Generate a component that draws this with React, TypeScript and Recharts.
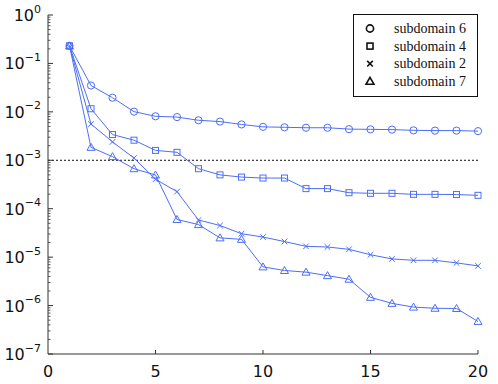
import React from "react";
import {
  LineChart,
  Line,
  XAxis,
  YAxis,
  ReferenceLine,
} from "recharts";

// iteration index
const iterations = [1, 2, 3, 4, 5, 6, 7, 8, 9, 10, 11, 12, 13, 14, 15, 16, 17, 18, 19, 20];

const subdomain6 = [
  0.23, 0.035, 0.0196, 0.0101, 0.0081, 0.0078, 0.0067, 0.0063, 0.0055, 0.0049,
  0.0048, 0.0047, 0.0047, 0.0044, 0.00435, 0.0043, 0.00415, 0.0041, 0.0041, 0.004,
];
const subdomain4 = [
  0.23, 0.0116, 0.0034, 0.0026, 0.0016, 0.00146, 0.00067, 0.0005, 0.00045, 0.00043,
  0.00043, 0.00026, 0.00026, 0.000214, 0.000208, 0.000208, 0.000198, 0.000198, 0.000196, 0.000189,
];
const subdomain2 = [
  0.23, 0.0056, 0.0024, 0.00111, 0.000405, 0.000225, 5.85e-5, 4.5e-5, 3.05e-5, 2.6e-5,
  2.1e-5, 1.67e-5, 1.62e-5, 1.45e-5, 1.12e-5, 9.2e-6, 8.6e-6, 8.6e-6, 7.6e-6, 6.6e-6,
];
const subdomain7 = [
  0.23, 0.00185, 0.00119, 0.00067, 0.000497, 6.0e-5, 4.7e-5, 2.5e-5, 2.33e-5, 6.3e-6,
  5.3e-6, 4.9e-6, 4.15e-6, 3.5e-6, 1.48e-6, 1.11e-6, 9.3e-7, 8.8e-7, 8.7e-7, 4.7e-7,
];

const xTicks = [0, 5, 10, 15, 20];
const yExponents = [-7, -6, -5, -4, -3, -2, -1, 0];
const tolerance = 0.001;

const legendItems = [
  { name: "subdomain 6", marker: "circle" },
  { name: "subdomain 4", marker: "square" },
  { name: "subdomain 2", marker: "cross" },
  { name: "subdomain 7", marker: "triangle" },
];

const BLUE = "#4d6ef6";
const AXIS = "#333";
const PLOT_LEFT = 48;
const PLOT_BOTTOM = 354;

const data = iterations.map((x, i) => ({
  x,
  s6: subdomain6[i],
  s4: subdomain4[i],
  s2: subdomain2[i],
  s7: subdomain7[i],
}));

// major + minor log ticks
const yTicks: number[] = [];
yExponents.forEach((e) => {
  yTicks.push(Math.pow(10, e));
  if (e < 0) {
    for (let m = 2; m <= 9; m++) yTicks.push(m * Math.pow(10, e));
  }
});

function Marker({ kind, cx, cy, color, sw = 1 }: any) {
  if (cx == null || cy == null) return null;
  if (kind === "circle")
    return <circle cx={cx} cy={cy} r={3.6} fill="none" stroke={color} strokeWidth={sw} />;
  if (kind === "square")
    return (
      <rect x={cx - 3} y={cy - 3} width={6} height={6} fill="none" stroke={color} strokeWidth={sw} />
    );
  if (kind === "cross")
    return (
      <path
        d={`M${cx - 2.8},${cy - 2.8}L${cx + 2.8},${cy + 2.8}M${cx - 2.8},${cy + 2.8}L${cx + 2.8},${cy - 2.8}`}
        stroke={color}
        strokeWidth={sw}
      />
    );
  return (
    <path
      d={`M${cx},${cy - 4}L${cx + 4},${cy + 3}L${cx - 4},${cy + 3}Z`}
      fill="none"
      stroke={color}
      strokeWidth={sw}
    />
  );
}

const dotOf = (kind: string) => (props: any) =>
  <Marker key={`${kind}-${props.index}`} kind={kind} cx={props.cx} cy={props.cy} color={BLUE} />;

function YTick(props: any) {
  const { y, payload } = props;
  const v = payload.value;
  const e = Math.log10(v);
  const major = Math.abs(e - Math.round(e)) < 1e-6;
  if (!major) {
    return <line x1={PLOT_LEFT} x2={PLOT_LEFT + 2.5} y1={y} y2={y} stroke={AXIS} strokeWidth={0.8} />;
  }
  const exp = Math.round(e);
  return (
    <g>
      <line x1={PLOT_LEFT} x2={PLOT_LEFT + 5} y1={y} y2={y} stroke={AXIS} strokeWidth={1} />
      <text
        x={41}
        y={y + 6}
        textAnchor="end"
        fontFamily="DejaVu Sans"
        fontSize={16}
        fill="#111"
      >
        10
        <tspan dy={-8.5} fontSize={11}>
          {exp < 0 ? `\u2212${-exp}` : `${exp}`}
        </tspan>
      </text>
    </g>
  );
}

function XTick(props: any) {
  const { x, payload } = props;
  return (
    <g>
      {payload.value !== 0 && (
        <line x1={x} x2={x} y1={PLOT_BOTTOM} y2={PLOT_BOTTOM - 4} stroke={AXIS} strokeWidth={1} />
      )}
      <text x={x} y={377} textAnchor="middle" fontFamily="DejaVu Sans" fontSize={16} fill="#111">
        {payload.value}
      </text>
    </g>
  );
}

export default function App() {
  return (
    <div style={{ position: "absolute", left: 0, top: 0, width: 498, height: 384, background: "#fff" }}>
      <LineChart
        width={498}
        height={384}
        data={data}
        margin={{ top: 15, right: 20, bottom: 0, left: 0 }}
      >
        <XAxis
          type="number"
          dataKey="x"
          domain={[0, 20]}
          ticks={xTicks}
          interval={0}
          height={30}
          tickLine={false}
          axisLine={{ stroke: AXIS, strokeWidth: 1 }}
          tick={<XTick />}
        />
        <YAxis
          scale="log"
          type="number"
          domain={[1e-7, 1]}
          allowDataOverflow
          ticks={yTicks}
          interval={0}
          width={48}
          tickLine={false}
          axisLine={{ stroke: AXIS, strokeWidth: 1 }}
          tick={<YTick />}
        />
        <ReferenceLine y={tolerance} stroke="#111" strokeWidth={1} strokeDasharray="2 2" />
        <Line dataKey="s6" stroke={BLUE} strokeWidth={1} dot={dotOf("circle")} isAnimationActive={false} />
        <Line dataKey="s4" stroke={BLUE} strokeWidth={1} dot={dotOf("square")} isAnimationActive={false} />
        <Line dataKey="s2" stroke={BLUE} strokeWidth={1} dot={dotOf("cross")} isAnimationActive={false} />
        <Line dataKey="s7" stroke={BLUE} strokeWidth={1} dot={dotOf("triangle")} isAnimationActive={false} />
      </LineChart>
      <div
        style={{
          position: "absolute",
          left: 353,
          top: 14,
          width: 125,
          height: 83,
          border: "1px solid #111",
          background: "#fff",
          boxSizing: "border-box",
        }}
      >
        <svg width={125} height={83} style={{ position: "absolute", left: -1, top: -1 }}>
          {legendItems.map((item, i) => (
            <g key={item.name}>
              <Marker kind={item.marker} cx={17} cy={14.5 + i * 17.6} color="#111" sw={1.6} />
              <text x={41} y={19 + i * 17.6} fontFamily="Liberation Serif" fontSize={14} fill="#111">
                {item.name}
              </text>
            </g>
          ))}
        </svg>
      </div>
    </div>
  );
}
